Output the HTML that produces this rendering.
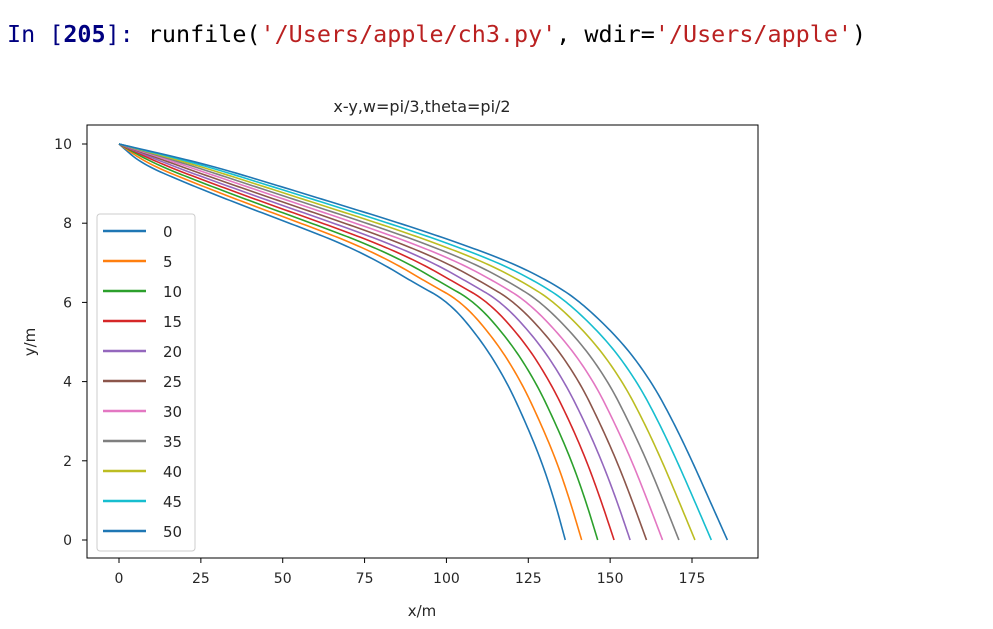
<!DOCTYPE html>
<html><head><meta charset="utf-8"><style>
body{margin:0;background:#fff;width:993px;height:629px;overflow:hidden;position:relative;font-family:"DejaVu Sans","Liberation Sans",sans-serif}
#prompt{position:absolute;left:7px;top:20px;font-family:"DejaVu Sans Mono","Liberation Mono",monospace;font-size:23.4px;white-space:pre;color:#000}
.nv{color:#000080}.rd{color:#ba2121}
</style></head><body>
<div id="prompt"><span class="nv">In [<b>205</b>]:</span> runfile(<span class="rd">'/Users/apple/ch3.py'</span>, wdir=<span class="rd">'/Users/apple'</span>)</div>
<svg id="chart" width="993" height="629" style="position:absolute;left:0;top:0"></svg>
<script>
const ys=[10,9.5,9,8.5,8,7.5,7,6.5,6,5,4,3,2,1,0];
const labels=["0","5","10","15","20","25","30","35","40","45","50"];
const s0=[0,6.9,20.9,36.1,52.1,67.7,80,90,101,111,118.4,124,129,133,136.3];
const s5=[0,8.8,23.5,39.1,55.5,71.3,84,94.2,105,115.3,122.8,128.5,133.6,137.7,141.3];
const s10=[0,10.8,26,42.1,58.8,74.9,88,98.4,109,119.5,127.2,133,138.2,142.5,146.2];
const s15=[0,12.7,28.6,45.1,62.2,78.5,92,102.6,113.1,123.9,131.6,137.6,142.8,147.2,151.2];
const s20=[0,14.6,31.1,48.1,65.6,82.1,96,106.8,117.1,128.1,136,142.1,147.4,152,156.1];
const s25=[0,16.6,33.7,51.2,69,85.8,100,111.1,121.1,132.4,140.6,146.6,152,156.7,161.1];
const s30=[0,18.5,36.3,54.2,72.3,89.4,104,115.3,125.1,136.6,145,151.1,156.6,161.4,166];
const s35=[0,20.4,38.8,57.2,75.7,93,108,119.5,129.1,140.9,149.4,155.6,161.2,166.2,171];
const s40=[0,22.3,41.4,60.2,79.1,96.6,112,123.7,133.2,145.2,153.8,160.2,165.8,170.9,175.9];
const s45=[0,24.3,43.9,63.2,82.4,100.2,116,127.9,137.2,149.5,158.2,164.7,170.4,175.7,180.9];
const s50=[0,26.2,46.5,66.2,85.8,103.8,120,132.1,141.2,153.7,162.6,169.2,175,180.4,185.8];
const series=[s0,s5,s10,s15,s20,s25,s30,s35,s40,s45,s50];
const xticks=[0,25,50,75,100,125,150,175];
const yticks=[0,2,4,6,8,10];
const colors=["#1f77b4","#ff7f0e","#2ca02c","#d62728","#9467bd","#8c564b","#e377c2","#7f7f7f","#bcbd22","#17becf","#1f77b4"];
const NS="http://www.w3.org/2000/svg";
const svg=document.getElementById('chart');
const L=87,R=758,T=125,B=558;
const X=v=>119+v*(692-119)/175;
const Y=v=>540-v*(540-144)/10;
function mk(t,a,p){const e=document.createElementNS(NS,t);for(const k in a)e.setAttribute(k,a[k]);(p||svg).appendChild(e);return e;}
function chaikin(pts,it){
 for(let n=0;n<it;n++){const o=[pts[0]];
  for(let i=0;i<pts.length-1;i++){const a=pts[i],b=pts[i+1];
   o.push([0.75*a[0]+0.25*b[0],0.75*a[1]+0.25*b[1]]);o.push([0.25*a[0]+0.75*b[0],0.25*a[1]+0.75*b[1]]);}
  o.push(pts[pts.length-1]);pts=o;}
 return pts;}
series.forEach((s,k)=>{
 const pts=chaikin(s.map((v,i)=>[X(v),Y(ys[i])]),4);
 const d="M"+pts.map(p=>p[0].toFixed(2)+","+p[1].toFixed(2)).join(" L");
 const p=mk('path',{d:d,fill:'none',stroke:colors[k],'stroke-width':1.6,'stroke-linejoin':'round'});
 
 
});
const frame=mk('rect',{x:L,y:T,width:R-L,height:B-T,fill:'none',stroke:'#000','stroke-width':1});


xticks.forEach(v=>{
 mk('line',{x1:X(v),x2:X(v),y1:B,y2:B+5,stroke:'#000'});
 const t=mk('text',{x:X(v),y:B+25,'text-anchor':'middle','font-size':14,fill:'#262626'});t.textContent=v;
 
 
});
yticks.forEach(v=>{
 mk('line',{x1:L-5,x2:L,y1:Y(v),y2:Y(v),stroke:'#000'});
 const t=mk('text',{x:L-15,y:Y(v)+5,'text-anchor':'end','font-size':14,fill:'#262626'});t.textContent=v;
 
 
});
const title=mk('text',{x:422,y:112,'text-anchor':'middle','font-size':16,fill:'#262626'});title.textContent='x-y,w=pi/3,theta=pi/2';


const xl=mk('text',{x:422,y:616,'text-anchor':'middle','font-size':15,fill:'#262626'});xl.textContent='x/m';


const yl=mk('text',{x:0,y:0,'text-anchor':'middle','font-size':15,fill:'#262626',transform:'translate(35,342) rotate(-90)'});yl.textContent='y/m';


const lg=mk('g',{});


mk('rect',{x:97,y:214,width:98,height:337,rx:3,fill:'#fff','fill-opacity':0.8,stroke:'#ccc'},lg);
labels.forEach((lab,k)=>{
 const y=231+k*30;
 const ln=mk('line',{x1:103,x2:146,y1:y,y2:y,stroke:colors[k],'stroke-width':2.5},lg);
 
 
 const t=mk('text',{x:163,y:y+6,'font-size':15,fill:'#262626'},lg);t.textContent=lab;
 
 
});
</script>
</body></html>
